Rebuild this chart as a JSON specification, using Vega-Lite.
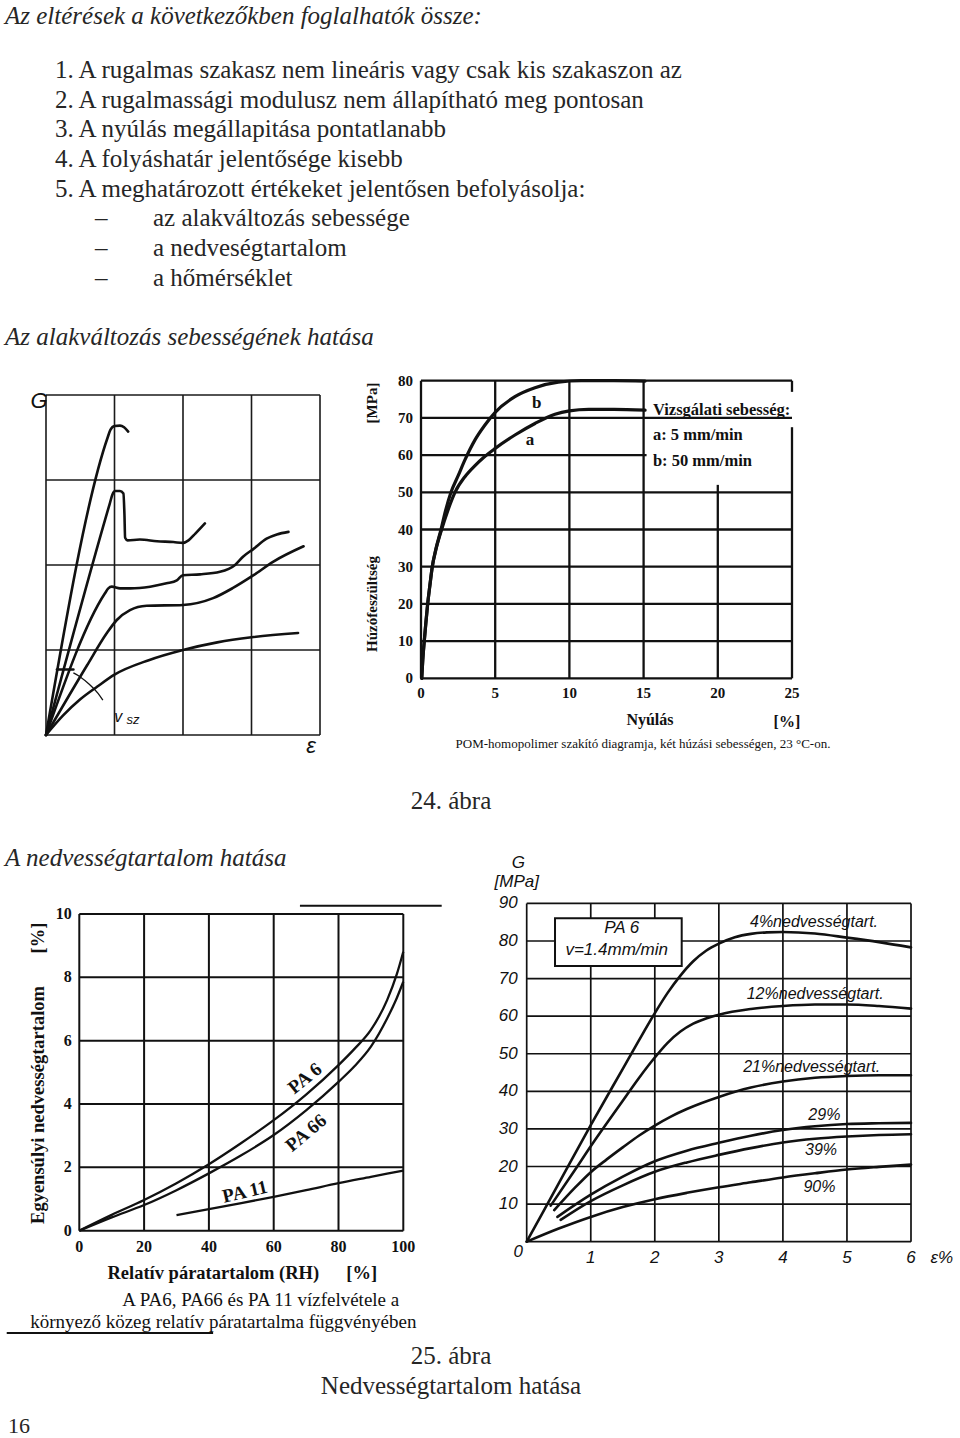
{
"$schema":"https://vega.github.io/schema/vega-lite/v6.json",
"width":960,"height":1438,"autosize":"none","padding":0,"background":"white",
"config":{"view":{"stroke":null},"axis":{"disable":true}},
"datasets":{
"page":[
{"text":"Az eltérések a következőkben foglalhatók össze:","line":0.17,"kind":"heading"},
{"text":"1. A rugalmas szakasz nem lineáris vagy csak kis szakaszon az","line":2,"kind":"item"},
{"text":"2. A rugalmassági modulusz nem állapítható meg pontosan","line":3,"kind":"item"},
{"text":"3. A nyúlás megállapitása pontatlanabb","line":4,"kind":"item"},
{"text":"4. A folyáshatár jelentősége kisebb","line":5,"kind":"item"},
{"text":"5. A meghatározott értékeket jelentősen befolyásolja:","line":6,"kind":"item"},
{"text":"az alakváltozás sebessége","line":7,"kind":"sub"},
{"text":"a nedveségtartalom","line":8,"kind":"sub"},
{"text":"a hőmérséklet","line":9,"kind":"sub"},
{"text":"Az alakváltozás sebességének hatása","line":11,"kind":"heading"},
{"text":"24. ábra","line":26.6,"kind":"caption"},
{"text":"A nedvességtartalom hatása","line":28.55,"kind":"heading"},
{"text":"25. ábra","line":45.3,"kind":"caption"},
{"text":"Nedvességtartalom hatása","line":46.3,"kind":"caption"},
{"text":"16","line":47.65,"kind":"page"}],
"sketchGrid":[{"at":0},{"at":1},{"at":2},{"at":3},{"at":4}],
"sketchCurves":[
{"c":"s1","x":0,"y":0},{"c":"s1","x":0.9,"y":3.5},{"c":"s1","x":0.94,"y":3.59},{"c":"s1","x":1.0,"y":3.635},{"c":"s1","x":1.08,"y":3.64},{"c":"s1","x":1.14,"y":3.62},{"c":"s1","x":1.2,"y":3.57},
{"c":"s2","x":0,"y":0},{"c":"s2","x":0.93,"y":2.72},{"c":"s2","x":0.97,"y":2.83},{"c":"s2","x":1.01,"y":2.87},{"c":"s2","x":1.08,"y":2.87},{"c":"s2","x":1.13,"y":2.84},{"c":"s2","x":1.145,"y":2.6},{"c":"s2","x":1.155,"y":2.32},{"c":"s2","x":1.19,"y":2.29},{"c":"s2","x":1.37,"y":2.3},{"c":"s2","x":1.62,"y":2.28},{"c":"s2","x":1.86,"y":2.27},{"c":"s2","x":2.0,"y":2.26},{"c":"s2","x":2.08,"y":2.29},{"c":"s2","x":2.18,"y":2.37},{"c":"s2","x":2.32,"y":2.49},
{"c":"s3","x":0,"y":0},{"c":"s3","x":0.861,"y":1.667},{"c":"s3","x":0.91,"y":1.725},{"c":"s3","x":0.96,"y":1.745},{"c":"s3","x":1.08,"y":1.725},{"c":"s3","x":1.23,"y":1.725},{"c":"s3","x":1.52,"y":1.745},{"c":"s3","x":1.76,"y":1.784},{"c":"s3","x":1.91,"y":1.82},{"c":"s3","x":2.0,"y":1.88},{"c":"s3","x":2.25,"y":1.89},{"c":"s3","x":2.54,"y":1.92},{"c":"s3","x":2.76,"y":2.0},{"c":"s3","x":2.88,"y":2.1},{"c":"s3","x":3.03,"y":2.19},{"c":"s3","x":3.22,"y":2.31},{"c":"s3","x":3.37,"y":2.36},{"c":"s3","x":3.54,"y":2.39},
{"c":"s4","x":0,"y":0},{"c":"s4","x":0.6,"y":0.82},{"c":"s4","x":0.886,"y":1.196},{"c":"s4","x":1.03,"y":1.35},{"c":"s4","x":1.226,"y":1.47},{"c":"s4","x":1.47,"y":1.52},{"c":"s4","x":2.0,"y":1.53},{"c":"s4","x":2.44,"y":1.61},{"c":"s4","x":2.73,"y":1.73},{"c":"s4","x":3.03,"y":1.88},{"c":"s4","x":3.32,"y":2.04},{"c":"s4","x":3.76,"y":2.22},
{"c":"s5","x":0,"y":0},{"c":"s5","x":0.25,"y":0.23},{"c":"s5","x":0.5,"y":0.42},{"c":"s5","x":0.75,"y":0.57},{"c":"s5","x":1.0,"y":0.71},{"c":"s5","x":1.5,"y":0.88},{"c":"s5","x":2.0,"y":1.0},{"c":"s5","x":2.5,"y":1.09},{"c":"s5","x":3.0,"y":1.15},{"c":"s5","x":3.68,"y":1.2},
{"c":"bar","x":0.16,"y":0.77},{"c":"bar","x":0.4,"y":0.77},
{"c":"arc","x":0.4,"y":0.73},{"c":"arc","x":0.496,"y":0.686},{"c":"arc","x":0.64,"y":0.59},{"c":"arc","x":0.76,"y":0.49},{"c":"arc","x":0.83,"y":0.41}],
"sketchText":[{"t":"G","x":-0.1,"y":3.93,"k":"big"},{"t":"ε","x":3.87,"y":-0.13,"k":"big"},{"t":"v","x":1.055,"y":0.215,"k":"v"},{"t":"sz","x":1.27,"y":0.18,"k":"sz"}],
"pomGrid":[
{"dir":"h","at":0,"from":0,"to":25},{"dir":"h","at":10,"from":0,"to":25},{"dir":"h","at":20,"from":0,"to":25},{"dir":"h","at":30,"from":0,"to":25},{"dir":"h","at":40,"from":0,"to":25},{"dir":"h","at":50,"from":0,"to":25},{"dir":"h","at":60,"from":0,"to":15.2},{"dir":"h","at":70,"from":0,"to":25},{"dir":"h","at":80,"from":0,"to":25},
{"dir":"v","at":0,"from":0,"to":80},{"dir":"v","at":5,"from":0,"to":80},{"dir":"v","at":10,"from":0,"to":80},{"dir":"v","at":15,"from":0,"to":80},{"dir":"v","at":20,"from":0,"to":52},{"dir":"v","at":25,"from":0,"to":67.5},{"dir":"v","at":25,"from":77,"to":80}],
"pomCurves":[
{"c":"a","x":0.05,"y":0},{"c":"a","x":0.12,"y":5},{"c":"a","x":0.22,"y":10},{"c":"a","x":0.33,"y":15},{"c":"a","x":0.45,"y":20},{"c":"a","x":0.6,"y":25},{"c":"a","x":0.76,"y":30},{"c":"a","x":1.0,"y":34.5},{"c":"a","x":1.39,"y":40},{"c":"a","x":1.8,"y":45},{"c":"a","x":2.29,"y":50},{"c":"a","x":2.96,"y":54.2},{"c":"a","x":3.64,"y":57.2},{"c":"a","x":4.2,"y":59.3},{"c":"a","x":5.0,"y":61.8},{"c":"a","x":6.33,"y":65.4},{"c":"a","x":7.68,"y":68.5},{"c":"a","x":9.03,"y":71},{"c":"a","x":10,"y":71.9},{"c":"a","x":11.3,"y":72.3},{"c":"a","x":13,"y":72.3},{"c":"a","x":15.1,"y":72.1},
{"c":"b","x":0.05,"y":0},{"c":"b","x":0.12,"y":5},{"c":"b","x":0.22,"y":10},{"c":"b","x":0.33,"y":15},{"c":"b","x":0.45,"y":20},{"c":"b","x":0.6,"y":25},{"c":"b","x":0.76,"y":30},{"c":"b","x":1.0,"y":34.7},{"c":"b","x":1.35,"y":40},{"c":"b","x":1.65,"y":45},{"c":"b","x":2.02,"y":50},{"c":"b","x":2.52,"y":54.6},{"c":"b","x":2.96,"y":58.7},{"c":"b","x":3.64,"y":64.1},{"c":"b","x":4.31,"y":68.1},{"c":"b","x":5.0,"y":71.5},{"c":"b","x":6.33,"y":75.7},{"c":"b","x":7.68,"y":78.1},{"c":"b","x":9.25,"y":79.6},{"c":"b","x":10.8,"y":80},{"c":"b","x":13,"y":80},{"c":"b","x":15.1,"y":79.9}],
"pomTicks":[
{"axis":"y","v":0},{"axis":"y","v":10},{"axis":"y","v":20},{"axis":"y","v":30},{"axis":"y","v":40},{"axis":"y","v":50},{"axis":"y","v":60},{"axis":"y","v":70},{"axis":"y","v":80},
{"axis":"x","v":0},{"axis":"x","v":5},{"axis":"x","v":10},{"axis":"x","v":15},{"axis":"x","v":20},{"axis":"x","v":25}],
"pomLabels":[
{"t":"b","x":7.8,"y":73.9,"k":"curve"},{"t":"a","x":7.35,"y":64.06,"k":"curve"},
{"t":"Vizsgálati sebesség:","x":15.63,"y":72.1,"k":"legend"},{"t":"a: 5 mm/min","x":15.63,"y":65.4,"k":"legend"},{"t":"b: 50 mm/min","x":15.63,"y":58.5,"k":"legend"},
{"t":"Nyúlás","x":15.43,"y":-11.18,"k":"xtitle"},{"t":"[%]","x":24.66,"y":-11.67,"k":"xtitle"},
{"t":"Húzófeszültség","x":-3.32,"y":19.97,"k":"ytitle"},{"t":"[MPa]","x":-3.32,"y":74.0,"k":"ytitle"},
{"t":"POM-homopolimer szakító diagramja, két  húzási sebességen, 23 °C-on.","x":14.96,"y":-17.66,"k":"caption"}],
"waterGrid":[
{"dir":"v","at":0,"from":0,"to":10},{"dir":"v","at":20,"from":0,"to":10},{"dir":"v","at":40,"from":0,"to":10},{"dir":"v","at":60,"from":0,"to":10},{"dir":"v","at":80,"from":0,"to":10},{"dir":"v","at":100,"from":0,"to":10},
{"dir":"h","at":0,"from":0,"to":100},{"dir":"h","at":2,"from":0,"to":100},{"dir":"h","at":4,"from":0,"to":100},{"dir":"h","at":6,"from":0,"to":100},{"dir":"h","at":8,"from":0,"to":100},{"dir":"h","at":10,"from":0,"to":100},
{"dir":"h","at":10.26,"from":68.1,"to":111.85},{"dir":"h","at":-3.23,"from":-22.4,"to":41.3}],
"waterCurves":[
{"c":"PA 6","x":0,"y":0},{"c":"PA 6","x":10,"y":0.5},{"c":"PA 6","x":20,"y":0.97},{"c":"PA 6","x":30,"y":1.5},{"c":"PA 6","x":40,"y":2.1},{"c":"PA 6","x":50,"y":2.77},{"c":"PA 6","x":60,"y":3.49},{"c":"PA 6","x":70,"y":4.3},{"c":"PA 6","x":80,"y":5.23},{"c":"PA 6","x":85,"y":5.75},{"c":"PA 6","x":90,"y":6.34},{"c":"PA 6","x":95,"y":7.28},{"c":"PA 6","x":98,"y":8.1},{"c":"PA 6","x":100,"y":8.81},
{"c":"PA 66","x":0,"y":0},{"c":"PA 66","x":10,"y":0.42},{"c":"PA 66","x":20,"y":0.81},{"c":"PA 66","x":30,"y":1.28},{"c":"PA 66","x":40,"y":1.81},{"c":"PA 66","x":50,"y":2.38},{"c":"PA 66","x":60,"y":3.02},{"c":"PA 66","x":70,"y":3.8},{"c":"PA 66","x":80,"y":4.7},{"c":"PA 66","x":85,"y":5.2},{"c":"PA 66","x":90,"y":5.81},{"c":"PA 66","x":95,"y":6.7},{"c":"PA 66","x":98,"y":7.35},{"c":"PA 66","x":100,"y":7.86},
{"c":"PA 11","x":30,"y":0.49},{"c":"PA 11","x":40,"y":0.68},{"c":"PA 11","x":50,"y":0.87},{"c":"PA 11","x":60,"y":1.07},{"c":"PA 11","x":70,"y":1.28},{"c":"PA 11","x":80,"y":1.5},{"c":"PA 11","x":90,"y":1.7},{"c":"PA 11","x":100,"y":1.9}],
"waterTicks":[
{"axis":"y","v":0},{"axis":"y","v":2},{"axis":"y","v":4},{"axis":"y","v":6},{"axis":"y","v":8},{"axis":"y","v":10},
{"axis":"x","v":0},{"axis":"x","v":20},{"axis":"x","v":40},{"axis":"x","v":60},{"axis":"x","v":80},{"axis":"x","v":100}],
"waterLabels":[
{"t":"PA 6","x":69.65,"y":4.81,"k":"pa6"},{"t":"PA 66","x":70,"y":3.09,"k":"pa66"},{"t":"PA 11","x":51.1,"y":1.23,"k":"pa11"},
{"t":"Relatív páratartalom (RH)","x":41.36,"y":-1.345,"k":"xtitle"},{"t":"[%]","x":87.16,"y":-1.345,"k":"xtitle"},
{"t":"Egyensúlyi nedvességtartalom","x":-12.65,"y":3.97,"k":"ytitle"},{"t":"[%]","x":-12.65,"y":9.24,"k":"ytitle"},
{"t":"A PA6, PA66 és PA 11 vízfelvétele a","x":56.0,"y":-2.19,"k":"caption"},
{"t":"környező közeg relatív páratartalma függvényében","x":44.45,"y":-2.87,"k":"caption"}],
"pa6Grid":[
{"dir":"v","at":0,"from":0,"to":90},{"dir":"v","at":1,"from":0,"to":90},{"dir":"v","at":2,"from":0,"to":90},{"dir":"v","at":3,"from":0,"to":90},{"dir":"v","at":4,"from":0,"to":90},{"dir":"v","at":5,"from":0,"to":90},{"dir":"v","at":6,"from":0,"to":90},
{"dir":"h","at":0,"from":0,"to":6},{"dir":"h","at":10,"from":0,"to":6},{"dir":"h","at":20,"from":0,"to":6},{"dir":"h","at":30,"from":0,"to":6},{"dir":"h","at":40,"from":0,"to":6},{"dir":"h","at":50,"from":0,"to":6},{"dir":"h","at":60,"from":0,"to":6},{"dir":"h","at":70,"from":0,"to":6},{"dir":"h","at":80,"from":0,"to":6},{"dir":"h","at":90,"from":0,"to":6}],
"pa6Box":[{"x1":0.442,"x2":2.42,"y1":73.35,"y2":86.04}],
"pa6Curves":[
{"c":"4%","x":0,"y":0},{"c":"4%","x":0.5,"y":15.5},{"c":"4%","x":1.0,"y":31},{"c":"4%","x":1.5,"y":46},{"c":"4%","x":1.75,"y":53.5},{"c":"4%","x":2.0,"y":60.8},{"c":"4%","x":2.2,"y":66.2},{"c":"4%","x":2.4,"y":70.8},{"c":"4%","x":2.6,"y":74.6},{"c":"4%","x":2.8,"y":77.4},{"c":"4%","x":3.0,"y":79.3},{"c":"4%","x":3.25,"y":81.0},{"c":"4%","x":3.5,"y":81.9},{"c":"4%","x":3.75,"y":82.3},{"c":"4%","x":4.0,"y":82.4},{"c":"4%","x":4.5,"y":82},{"c":"4%","x":5.0,"y":80.9},{"c":"4%","x":5.5,"y":79.7},{"c":"4%","x":6.0,"y":78.3},
{"c":"12%","x":0.375,"y":9.6},{"c":"12%","x":0.75,"y":19},{"c":"12%","x":1.0,"y":25.4},{"c":"12%","x":1.5,"y":37.5},{"c":"12%","x":1.75,"y":43.5},{"c":"12%","x":2.0,"y":49},{"c":"12%","x":2.2,"y":52.9},{"c":"12%","x":2.4,"y":55.9},{"c":"12%","x":2.6,"y":58.0},{"c":"12%","x":2.8,"y":59.4},{"c":"12%","x":3.0,"y":60.4},{"c":"12%","x":3.5,"y":61.9},{"c":"12%","x":4.0,"y":62.7},{"c":"12%","x":4.5,"y":63.1},{"c":"12%","x":5.0,"y":63.1},{"c":"12%","x":5.5,"y":62.7},{"c":"12%","x":6.0,"y":62.0},
{"c":"21%","x":0.43,"y":8.4},{"c":"21%","x":0.75,"y":14.3},{"c":"21%","x":1.0,"y":18.5},{"c":"21%","x":1.25,"y":21.9},{"c":"21%","x":1.5,"y":25.1},{"c":"21%","x":1.75,"y":28.2},{"c":"21%","x":2.0,"y":30.9},{"c":"21%","x":2.25,"y":33.3},{"c":"21%","x":2.5,"y":35.3},{"c":"21%","x":3.0,"y":38.5},{"c":"21%","x":3.5,"y":41},{"c":"21%","x":4.0,"y":42.6},{"c":"21%","x":4.5,"y":43.6},{"c":"21%","x":5.0,"y":44.1},{"c":"21%","x":5.5,"y":44.3},{"c":"21%","x":6.0,"y":44.3},
{"c":"29%","x":0.48,"y":6.6},{"c":"29%","x":1.0,"y":12.5},{"c":"29%","x":1.5,"y":17.3},{"c":"29%","x":2.0,"y":21.4},{"c":"29%","x":2.5,"y":24.2},{"c":"29%","x":3.0,"y":26.3},{"c":"29%","x":3.5,"y":28.2},{"c":"29%","x":4.0,"y":29.7},{"c":"29%","x":4.5,"y":30.7},{"c":"29%","x":5.0,"y":31.3},{"c":"29%","x":5.5,"y":31.5},{"c":"29%","x":6.0,"y":31.6},
{"c":"39%","x":0.53,"y":5.8},{"c":"39%","x":1.0,"y":10.8},{"c":"39%","x":1.5,"y":15},{"c":"39%","x":2.0,"y":18.6},{"c":"39%","x":2.5,"y":21.1},{"c":"39%","x":3.0,"y":23.1},{"c":"39%","x":3.5,"y":24.9},{"c":"39%","x":4.0,"y":26.4},{"c":"39%","x":4.5,"y":27.4},{"c":"39%","x":5.0,"y":28.0},{"c":"39%","x":5.5,"y":28.4},{"c":"39%","x":6.0,"y":28.6},
{"c":"90%","x":0,"y":0},{"c":"90%","x":0.5,"y":3.5},{"c":"90%","x":1.0,"y":6.6},{"c":"90%","x":1.5,"y":9.2},{"c":"90%","x":2.0,"y":11.3},{"c":"90%","x":2.5,"y":13},{"c":"90%","x":3.0,"y":14.5},{"c":"90%","x":3.5,"y":15.8},{"c":"90%","x":4.0,"y":17.1},{"c":"90%","x":4.5,"y":18.2},{"c":"90%","x":5.0,"y":19.2},{"c":"90%","x":5.5,"y":19.9},{"c":"90%","x":6.0,"y":20.5}],
"pa6Ticks":[
{"axis":"y","v":10},{"axis":"y","v":20},{"axis":"y","v":30},{"axis":"y","v":40},{"axis":"y","v":50},{"axis":"y","v":60},{"axis":"y","v":70},{"axis":"y","v":80},{"axis":"y","v":90},
{"axis":"x","v":1},{"axis":"x","v":2},{"axis":"x","v":3},{"axis":"x","v":4},{"axis":"x","v":5},{"axis":"x","v":6}],
"pa6Labels":[
{"t":"4%nedvességtart.","x":3.486,"y":85.13,"k":"curve"},{"t":"12%nedvességtart.","x":3.435,"y":65.9,"k":"curve"},{"t":"21%nedvességtart.","x":3.38,"y":46.56,"k":"curve"},
{"t":"29%","x":4.397,"y":33.7,"k":"curve"},{"t":"39%","x":4.345,"y":24.4,"k":"curve"},{"t":"90%","x":4.32,"y":14.63,"k":"curve"},
{"t":"PA 6","x":1.483,"y":83.37,"k":"center"},{"t":"v=1.4mm/min","x":1.405,"y":77.6,"k":"center"},
{"t":"G","x":-0.13,"y":100.67,"k":"center"},{"t":"[MPa]","x":-0.156,"y":95.77,"k":"center"},{"t":"ε%","x":6.48,"y":-4.34,"k":"center"},
{"t":"0","x":-0.06,"y":-2.66,"k":"zero"}]
},
"layer":[
{"data":{"name":"page"},"layer":[
 {"transform":[{"filter":"datum.kind==='heading'"}],"mark":{"type":"text","align":"left","baseline":"middle","font":"Liberation Serif","fontSize":25,"fontStyle":"italic","color":"#262626"},
  "encoding":{"x":{"datum":0.2,"type":"quantitative","scale":{"domain":[0,38.4],"nice":false,"zero":false}},"y":{"field":"line","type":"quantitative","scale":{"domain":[-0.35354,48.064],"nice":false,"zero":false,"reverse":true}},"text":{"field":"text"}}},
 {"transform":[{"filter":"datum.kind==='item'"}],"mark":{"type":"text","align":"left","baseline":"middle","font":"Liberation Serif","fontSize":25,"color":"#262626"},
  "encoding":{"x":{"datum":2.2,"type":"quantitative","scale":{"domain":[0,38.4],"nice":false,"zero":false}},"y":{"field":"line","type":"quantitative","scale":{"domain":[-0.35354,48.064],"nice":false,"zero":false,"reverse":true}},"text":{"field":"text"}}},
 {"transform":[{"filter":"datum.kind==='sub'"}],"mark":{"type":"text","align":"left","baseline":"middle","font":"Liberation Serif","fontSize":25,"color":"#262626"},
  "encoding":{"x":{"datum":3.8,"type":"quantitative","scale":{"domain":[0,38.4],"nice":false,"zero":false}},"y":{"field":"line","type":"quantitative","scale":{"domain":[-0.35354,48.064],"nice":false,"zero":false,"reverse":true}},"text":{"value":"–"}}},
 {"transform":[{"filter":"datum.kind==='sub'"}],"mark":{"type":"text","align":"left","baseline":"middle","font":"Liberation Serif","fontSize":25,"color":"#262626"},
  "encoding":{"x":{"datum":6.12,"type":"quantitative","scale":{"domain":[0,38.4],"nice":false,"zero":false}},"y":{"field":"line","type":"quantitative","scale":{"domain":[-0.35354,48.064],"nice":false,"zero":false,"reverse":true}},"text":{"field":"text"}}},
 {"transform":[{"filter":"datum.kind==='caption'"}],"mark":{"type":"text","align":"center","baseline":"middle","font":"Liberation Serif","fontSize":25,"color":"#262626"},
  "encoding":{"x":{"datum":18.04,"type":"quantitative","scale":{"domain":[0,38.4],"nice":false,"zero":false}},"y":{"field":"line","type":"quantitative","scale":{"domain":[-0.35354,48.064],"nice":false,"zero":false,"reverse":true}},"text":{"field":"text"}}},
 {"transform":[{"filter":"datum.kind==='page'"}],"mark":{"type":"text","align":"left","baseline":"middle","font":"Liberation Serif","fontSize":22,"color":"#262626"},
  "encoding":{"x":{"datum":0.32,"type":"quantitative","scale":{"domain":[0,38.4],"nice":false,"zero":false}},"y":{"field":"line","type":"quantitative","scale":{"domain":[-0.35354,48.064],"nice":false,"zero":false,"reverse":true}},"text":{"field":"text"}}}
]},
{"layer":[
 {"data":{"name":"sketchGrid"},"mark":{"type":"rule","color":"#1a1a1a","strokeWidth":1.6},
  "encoding":{"x":{"field":"at","type":"quantitative","scale":{"domain":[-0.6715,13.343],"nice":false,"zero":false}},"y":{"datum":0,"type":"quantitative","scale":{"domain":[-8.2706,8.647],"nice":false,"zero":false}},"y2":{"datum":4}}},
 {"data":{"name":"sketchGrid"},"mark":{"type":"rule","color":"#1a1a1a","strokeWidth":1.6},
  "encoding":{"y":{"field":"at","type":"quantitative","scale":{"domain":[-8.2706,8.647],"nice":false,"zero":false}},"x":{"datum":0,"type":"quantitative","scale":{"domain":[-0.6715,13.343],"nice":false,"zero":false}},"x2":{"datum":4}}},
 {"data":{"name":"sketchCurves"},"transform":[{"filter":"datum.c!=='arc'"}],"mark":{"type":"line","color":"#111111","strokeWidth":2.6,"interpolate":"monotone","strokeCap":"round","strokeJoin":"round"},
  "encoding":{"x":{"field":"x","type":"quantitative","scale":{"domain":[-0.6715,13.343],"nice":false,"zero":false}},"y":{"field":"y","type":"quantitative","scale":{"domain":[-8.2706,8.647],"nice":false,"zero":false}},"detail":{"field":"c"}}},
 {"data":{"name":"sketchCurves"},"transform":[{"filter":"datum.c==='arc'"}],"mark":{"type":"line","color":"#111111","strokeWidth":1.3,"interpolate":"monotone"},
  "encoding":{"x":{"field":"x","type":"quantitative","scale":{"domain":[-0.6715,13.343],"nice":false,"zero":false}},"y":{"field":"y","type":"quantitative","scale":{"domain":[-8.2706,8.647],"nice":false,"zero":false}}}},
 {"data":{"name":"sketchText"},"transform":[{"filter":"datum.k==='big'"}],"mark":{"type":"text","align":"center","baseline":"middle","font":"Liberation Sans","fontSize":22,"fontStyle":"italic","color":"#111111"},
  "encoding":{"x":{"field":"x","type":"quantitative","scale":{"domain":[-0.6715,13.343],"nice":false,"zero":false}},"y":{"field":"y","type":"quantitative","scale":{"domain":[-8.2706,8.647],"nice":false,"zero":false}},"text":{"field":"t"}}},
 {"data":{"name":"sketchText"},"transform":[{"filter":"datum.k==='v'"}],"mark":{"type":"text","align":"center","baseline":"middle","font":"Liberation Sans","fontSize":16,"fontStyle":"italic","color":"#111111"},
  "encoding":{"x":{"field":"x","type":"quantitative","scale":{"domain":[-0.6715,13.343],"nice":false,"zero":false}},"y":{"field":"y","type":"quantitative","scale":{"domain":[-8.2706,8.647],"nice":false,"zero":false}},"text":{"field":"t"}}},
 {"data":{"name":"sketchText"},"transform":[{"filter":"datum.k==='sz'"}],"mark":{"type":"text","align":"center","baseline":"middle","font":"Liberation Sans","fontSize":13,"fontStyle":"italic","color":"#111111"},
  "encoding":{"x":{"field":"x","type":"quantitative","scale":{"domain":[-0.6715,13.343],"nice":false,"zero":false}},"y":{"field":"y","type":"quantitative","scale":{"domain":[-8.2706,8.647],"nice":false,"zero":false}},"text":{"field":"t"}}}
]},
{"layer":[
 {"data":{"name":"pomGrid"},"transform":[{"filter":"datum.dir==='v'"}],"mark":{"type":"rule","color":"#111111","strokeWidth":2.3},
  "encoding":{"x":{"field":"at","type":"quantitative","scale":{"domain":[-28.369,36.321],"nice":false,"zero":false}},"y":{"field":"from","type":"quantitative","scale":{"domain":[-204.22,182.34],"nice":false,"zero":false}},"y2":{"field":"to"}}},
 {"data":{"name":"pomGrid"},"transform":[{"filter":"datum.dir==='h'"}],"mark":{"type":"rule","color":"#111111","strokeWidth":2.3},
  "encoding":{"y":{"field":"at","type":"quantitative","scale":{"domain":[-204.22,182.34],"nice":false,"zero":false}},"x":{"field":"from","type":"quantitative","scale":{"domain":[-28.369,36.321],"nice":false,"zero":false}},"x2":{"field":"to"}}},
 {"data":{"name":"pomCurves"},"mark":{"type":"line","color":"#111111","strokeWidth":3.2,"interpolate":"monotone","strokeCap":"round"},
  "encoding":{"x":{"field":"x","type":"quantitative","scale":{"domain":[-28.369,36.321],"nice":false,"zero":false}},"y":{"field":"y","type":"quantitative","scale":{"domain":[-204.22,182.34],"nice":false,"zero":false}},"detail":{"field":"c"}}},
 {"data":{"name":"pomTicks"},"transform":[{"filter":"datum.axis==='y'"}],"mark":{"type":"text","align":"right","baseline":"middle","font":"Liberation Serif","fontSize":15,"fontWeight":"bold","color":"#111111"},
  "encoding":{"x":{"datum":-0.54,"type":"quantitative","scale":{"domain":[-28.369,36.321],"nice":false,"zero":false}},"y":{"field":"v","type":"quantitative","scale":{"domain":[-204.22,182.34],"nice":false,"zero":false}},"text":{"field":"v"}}},
 {"data":{"name":"pomTicks"},"transform":[{"filter":"datum.axis==='x'"}],"mark":{"type":"text","align":"center","baseline":"middle","font":"Liberation Serif","fontSize":15,"fontWeight":"bold","color":"#111111"},
  "encoding":{"x":{"field":"v","type":"quantitative","scale":{"domain":[-28.369,36.321],"nice":false,"zero":false}},"y":{"datum":-3.87,"type":"quantitative","scale":{"domain":[-204.22,182.34],"nice":false,"zero":false}},"text":{"field":"v"}}},
 {"data":{"name":"pomLabels"},"transform":[{"filter":"datum.k==='curve'"}],"mark":{"type":"text","align":"center","baseline":"middle","font":"Liberation Serif","fontSize":17,"fontWeight":"bold","color":"#111111"},
  "encoding":{"x":{"field":"x","type":"quantitative","scale":{"domain":[-28.369,36.321],"nice":false,"zero":false}},"y":{"field":"y","type":"quantitative","scale":{"domain":[-204.22,182.34],"nice":false,"zero":false}},"text":{"field":"t"}}},
 {"data":{"name":"pomLabels"},"transform":[{"filter":"datum.k==='legend'"}],"mark":{"type":"text","align":"left","baseline":"middle","font":"Liberation Serif","fontSize":16.5,"fontWeight":"bold","color":"#111111"},
  "encoding":{"x":{"field":"x","type":"quantitative","scale":{"domain":[-28.369,36.321],"nice":false,"zero":false}},"y":{"field":"y","type":"quantitative","scale":{"domain":[-204.22,182.34],"nice":false,"zero":false}},"text":{"field":"t"}}},
 {"data":{"name":"pomLabels"},"transform":[{"filter":"datum.k==='xtitle'"}],"mark":{"type":"text","align":"center","baseline":"middle","font":"Liberation Serif","fontSize":16,"fontWeight":"bold","color":"#111111"},
  "encoding":{"x":{"field":"x","type":"quantitative","scale":{"domain":[-28.369,36.321],"nice":false,"zero":false}},"y":{"field":"y","type":"quantitative","scale":{"domain":[-204.22,182.34],"nice":false,"zero":false}},"text":{"field":"t"}}},
 {"data":{"name":"pomLabels"},"transform":[{"filter":"datum.k==='ytitle'"}],"mark":{"type":"text","align":"center","baseline":"middle","angle":270,"font":"Liberation Serif","fontSize":15,"fontWeight":"bold","color":"#111111"},
  "encoding":{"x":{"field":"x","type":"quantitative","scale":{"domain":[-28.369,36.321],"nice":false,"zero":false}},"y":{"field":"y","type":"quantitative","scale":{"domain":[-204.22,182.34],"nice":false,"zero":false}},"text":{"field":"t"}}},
 {"data":{"name":"pomLabels"},"transform":[{"filter":"datum.k==='caption'"}],"mark":{"type":"text","align":"center","baseline":"middle","font":"Liberation Serif","fontSize":13,"color":"#111111"},
  "encoding":{"x":{"field":"x","type":"quantitative","scale":{"domain":[-28.369,36.321],"nice":false,"zero":false}},"y":{"field":"y","type":"quantitative","scale":{"domain":[-204.22,182.34],"nice":false,"zero":false}},"text":{"field":"t"}}}
]},
{"layer":[
 {"data":{"name":"waterGrid"},"transform":[{"filter":"datum.dir==='v'"}],"mark":{"type":"rule","color":"#111111","strokeWidth":2},
  "encoding":{"x":{"field":"at","type":"quantitative","scale":{"domain":[-24.475,271.82],"nice":false,"zero":false}},"y":{"field":"from","type":"quantitative","scale":{"domain":[-6.5456,38.86],"nice":false,"zero":false}},"y2":{"field":"to"}}},
 {"data":{"name":"waterGrid"},"transform":[{"filter":"datum.dir==='h'"}],"mark":{"type":"rule","color":"#111111","strokeWidth":2},
  "encoding":{"y":{"field":"at","type":"quantitative","scale":{"domain":[-6.5456,38.86],"nice":false,"zero":false}},"x":{"field":"from","type":"quantitative","scale":{"domain":[-24.475,271.82],"nice":false,"zero":false}},"x2":{"field":"to"}}},
 {"data":{"name":"waterCurves"},"mark":{"type":"line","color":"#111111","strokeWidth":2.3,"interpolate":"monotone"},
  "encoding":{"x":{"field":"x","type":"quantitative","scale":{"domain":[-24.475,271.82],"nice":false,"zero":false}},"y":{"field":"y","type":"quantitative","scale":{"domain":[-6.5456,38.86],"nice":false,"zero":false}},"detail":{"field":"c"}}},
 {"data":{"name":"waterTicks"},"transform":[{"filter":"datum.axis==='y'"}],"mark":{"type":"text","align":"right","baseline":"middle","font":"Liberation Serif","fontSize":16,"fontWeight":"bold","color":"#111111"},
  "encoding":{"x":{"datum":-2.35,"type":"quantitative","scale":{"domain":[-24.475,271.82],"nice":false,"zero":false}},"y":{"field":"v","type":"quantitative","scale":{"domain":[-6.5456,38.86],"nice":false,"zero":false}},"text":{"field":"v"}}},
 {"data":{"name":"waterTicks"},"transform":[{"filter":"datum.axis==='x'"}],"mark":{"type":"text","align":"center","baseline":"middle","font":"Liberation Serif","fontSize":16,"fontWeight":"bold","color":"#111111"},
  "encoding":{"x":{"field":"v","type":"quantitative","scale":{"domain":[-24.475,271.82],"nice":false,"zero":false}},"y":{"datum":-0.505,"type":"quantitative","scale":{"domain":[-6.5456,38.86],"nice":false,"zero":false}},"text":{"field":"v"}}},
 {"data":{"name":"waterLabels"},"transform":[{"filter":"datum.k==='pa6'"}],"mark":{"type":"text","align":"center","baseline":"middle","angle":321,"font":"Liberation Serif","fontSize":19,"fontWeight":"bold","color":"#111111"},
  "encoding":{"x":{"field":"x","type":"quantitative","scale":{"domain":[-24.475,271.82],"nice":false,"zero":false}},"y":{"field":"y","type":"quantitative","scale":{"domain":[-6.5456,38.86],"nice":false,"zero":false}},"text":{"field":"t"}}},
 {"data":{"name":"waterLabels"},"transform":[{"filter":"datum.k==='pa66'"}],"mark":{"type":"text","align":"center","baseline":"middle","angle":320,"font":"Liberation Serif","fontSize":19,"fontWeight":"bold","color":"#111111"},
  "encoding":{"x":{"field":"x","type":"quantitative","scale":{"domain":[-24.475,271.82],"nice":false,"zero":false}},"y":{"field":"y","type":"quantitative","scale":{"domain":[-6.5456,38.86],"nice":false,"zero":false}},"text":{"field":"t"}}},
 {"data":{"name":"waterLabels"},"transform":[{"filter":"datum.k==='pa11'"}],"mark":{"type":"text","align":"center","baseline":"middle","angle":347,"font":"Liberation Serif","fontSize":19,"fontWeight":"bold","color":"#111111"},
  "encoding":{"x":{"field":"x","type":"quantitative","scale":{"domain":[-24.475,271.82],"nice":false,"zero":false}},"y":{"field":"y","type":"quantitative","scale":{"domain":[-6.5456,38.86],"nice":false,"zero":false}},"text":{"field":"t"}}},
 {"data":{"name":"waterLabels"},"transform":[{"filter":"datum.k==='xtitle'"}],"mark":{"type":"text","align":"center","baseline":"middle","font":"Liberation Serif","fontSize":18.5,"fontWeight":"bold","color":"#111111"},
  "encoding":{"x":{"field":"x","type":"quantitative","scale":{"domain":[-24.475,271.82],"nice":false,"zero":false}},"y":{"field":"y","type":"quantitative","scale":{"domain":[-6.5456,38.86],"nice":false,"zero":false}},"text":{"field":"t"}}},
 {"data":{"name":"waterLabels"},"transform":[{"filter":"datum.k==='ytitle'"}],"mark":{"type":"text","align":"center","baseline":"middle","angle":270,"font":"Liberation Serif","fontSize":18.5,"fontWeight":"bold","color":"#111111"},
  "encoding":{"x":{"field":"x","type":"quantitative","scale":{"domain":[-24.475,271.82],"nice":false,"zero":false}},"y":{"field":"y","type":"quantitative","scale":{"domain":[-6.5456,38.86],"nice":false,"zero":false}},"text":{"field":"t"}}},
 {"data":{"name":"waterLabels"},"transform":[{"filter":"datum.k==='caption'"}],"mark":{"type":"text","align":"center","baseline":"middle","font":"Liberation Serif","fontSize":19,"color":"#111111"},
  "encoding":{"x":{"field":"x","type":"quantitative","scale":{"domain":[-24.475,271.82],"nice":false,"zero":false}},"y":{"field":"y","type":"quantitative","scale":{"domain":[-6.5456,38.86],"nice":false,"zero":false}},"text":{"field":"t"}}}
]},
{"layer":[
 {"data":{"name":"pa6Grid"},"transform":[{"filter":"datum.dir==='v'"}],"mark":{"type":"rule","color":"#111111","strokeWidth":1.7},
  "encoding":{"x":{"field":"at","type":"quantitative","scale":{"domain":[-8.2233,6.765],"nice":false,"zero":false}},"y":{"field":"from","type":"quantitative","scale":{"domain":[-52.223,330.34],"nice":false,"zero":false}},"y2":{"field":"to"}}},
 {"data":{"name":"pa6Grid"},"transform":[{"filter":"datum.dir==='h'"}],"mark":{"type":"rule","color":"#111111","strokeWidth":1.7},
  "encoding":{"y":{"field":"at","type":"quantitative","scale":{"domain":[-52.223,330.34],"nice":false,"zero":false}},"x":{"field":"from","type":"quantitative","scale":{"domain":[-8.2233,6.765],"nice":false,"zero":false}},"x2":{"field":"to"}}},
 {"data":{"name":"pa6Box"},"mark":{"type":"rect","fill":"white","stroke":"#111111","strokeWidth":2},
  "encoding":{"x":{"field":"x1","type":"quantitative","scale":{"domain":[-8.2233,6.765],"nice":false,"zero":false}},"x2":{"field":"x2"},"y":{"field":"y1","type":"quantitative","scale":{"domain":[-52.223,330.34],"nice":false,"zero":false}},"y2":{"field":"y2"}}},
 {"data":{"name":"pa6Curves"},"mark":{"type":"line","color":"#111111","strokeWidth":2.6,"interpolate":"monotone","strokeCap":"round"},
  "encoding":{"x":{"field":"x","type":"quantitative","scale":{"domain":[-8.2233,6.765],"nice":false,"zero":false}},"y":{"field":"y","type":"quantitative","scale":{"domain":[-52.223,330.34],"nice":false,"zero":false}},"detail":{"field":"c"}}},
 {"data":{"name":"pa6Ticks"},"transform":[{"filter":"datum.axis==='y'"}],"mark":{"type":"text","align":"right","baseline":"middle","font":"Liberation Sans","fontSize":17,"fontStyle":"italic","color":"#111111"},
  "encoding":{"x":{"datum":-0.14,"type":"quantitative","scale":{"domain":[-8.2233,6.765],"nice":false,"zero":false}},"y":{"field":"v","type":"quantitative","scale":{"domain":[-52.223,330.34],"nice":false,"zero":false}},"text":{"field":"v"}}},
 {"data":{"name":"pa6Ticks"},"transform":[{"filter":"datum.axis==='x'"}],"mark":{"type":"text","align":"center","baseline":"middle","font":"Liberation Sans","fontSize":17,"fontStyle":"italic","color":"#111111"},
  "encoding":{"x":{"field":"v","type":"quantitative","scale":{"domain":[-8.2233,6.765],"nice":false,"zero":false}},"y":{"datum":-4.42,"type":"quantitative","scale":{"domain":[-52.223,330.34],"nice":false,"zero":false}},"text":{"field":"v"}}},
 {"data":{"name":"pa6Labels"},"transform":[{"filter":"datum.k==='curve'"}],"mark":{"type":"text","align":"left","baseline":"middle","font":"Liberation Sans","fontSize":16,"fontStyle":"italic","color":"#111111"},
  "encoding":{"x":{"field":"x","type":"quantitative","scale":{"domain":[-8.2233,6.765],"nice":false,"zero":false}},"y":{"field":"y","type":"quantitative","scale":{"domain":[-52.223,330.34],"nice":false,"zero":false}},"text":{"field":"t"}}},
 {"data":{"name":"pa6Labels"},"transform":[{"filter":"datum.k==='center'"}],"mark":{"type":"text","align":"center","baseline":"middle","font":"Liberation Sans","fontSize":17,"fontStyle":"italic","color":"#111111"},
  "encoding":{"x":{"field":"x","type":"quantitative","scale":{"domain":[-8.2233,6.765],"nice":false,"zero":false}},"y":{"field":"y","type":"quantitative","scale":{"domain":[-52.223,330.34],"nice":false,"zero":false}},"text":{"field":"t"}}},
 {"data":{"name":"pa6Labels"},"transform":[{"filter":"datum.k==='zero'"}],"mark":{"type":"text","align":"right","baseline":"middle","font":"Liberation Sans","fontSize":17,"fontStyle":"italic","color":"#111111"},
  "encoding":{"x":{"field":"x","type":"quantitative","scale":{"domain":[-8.2233,6.765],"nice":false,"zero":false}},"y":{"field":"y","type":"quantitative","scale":{"domain":[-52.223,330.34],"nice":false,"zero":false}},"text":{"field":"t"}}}
]}
],
"resolve":{"scale":{"x":"independent","y":"independent"}}
}
